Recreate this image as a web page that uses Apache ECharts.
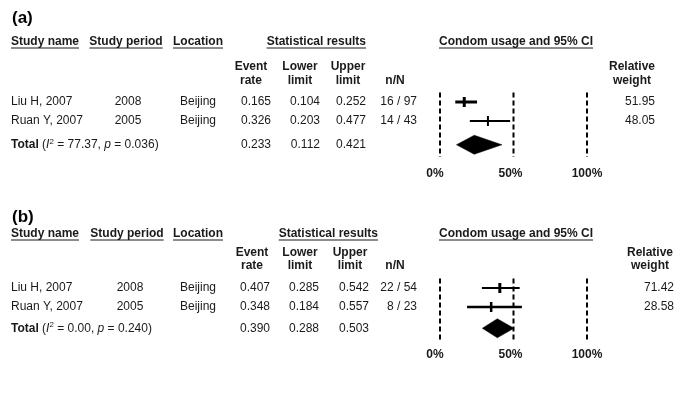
<!DOCTYPE html>
<html><head><meta charset="utf-8">
<script src="https://cdn.jsdelivr.net/npm/echarts@6/dist/echarts.min.js"></script>
<style>html,body{margin:0;padding:0;background:#fff}#c{width:685px;height:411px}</style>
</head><body><div id="c"></div>
<script>
// ---------- data ----------
const studyNames = ['Liu H, 2007', 'Ruan Y, 2007'];
const studyPeriods = ['2008', '2005'];
const locations = ['Beijing', 'Beijing'];
const xTickValues = [0, 0.5, 1];
const xTickLabels = ['0%', '50%', '100%'];
const panelLabels = ['(a)', '(b)'];
const headerTop = ['Study name', 'Study period', 'Location', 'Statistical results', 'Condom usage and 95% CI'];
const headerEvent = ['Event', 'rate'];
const headerLower = ['Lower', 'limit'];
const headerUpper = ['Upper', 'limit'];
const headerN = 'n/N';
const headerWeight = ['Relative', 'weight'];

// panel (a)
const aEvent = [0.165, 0.326];
const aLower = [0.104, 0.203];
const aUpper = [0.252, 0.477];
const aNN = ['16 / 97', '14 / 43'];
const aWeight = [51.95, 48.05];
const aTotal = [0.233, 0.112, 0.421];
const aI2 = 77.37;
const aP = 0.036;

// panel (b)
const bEvent = [0.407, 0.348];
const bLower = [0.285, 0.184];
const bUpper = [0.542, 0.557];
const bNN = ['22 / 54', '8 / 23'];
const bWeight = [71.42, 28.58];
const bTotal = [0.390, 0.288, 0.503];
const bI2 = 0.00;
const bP = 0.240;

// ---------- layout ----------
const FF = '"Liberation Sans", Arial, sans-serif';
const COL = '#1a1a1a';
const tickLabelPad = [10, 6, 0];
const panels = [
  { label: panelLabels[0], labelY: 18, headY: 42, h1: 67, h2: 81, gridTop: 92.5, yMax: 2.9, totalRow: 2.25, labelMargin: 11,
    ev: aEvent, lo: aLower, up: aUpper, nn: aNN, w: aWeight, tot: aTotal, i2: aI2, p: aP,
    lineW: [3, 2], tickW: [3, 2],
    cx: { name: 11, period: 128, loc: 198, ev: 271, lo: 320, up: 366, nn: 417, w: 655, statR: 366,
          hEv: 251, hLo: 300, hUp: 348, hN: 395, hW: 632, hPeriod: 126 } },
  { label: panelLabels[1], labelY: 217, headY: 234, h1: 253, h2: 266, gridTop: 278.5, yMax: 2.75, totalRow: 2.12, labelMargin: 8,
    ev: bEvent, lo: bLower, up: bUpper, nn: bNN, w: bWeight, tot: bTotal, i2: bI2, p: bP,
    lineW: [2, 2.5], tickW: [3, 2.5],
    cx: { name: 11, period: 130, loc: 198, ev: 270, lo: 319, up: 369, nn: 417, w: 674, statR: 378,
          hEv: 252, hLo: 300, hUp: 350, hN: 395, hW: 650, hPeriod: 127 } }
];
const ROWPX = 19;

const mctx = document.createElement('canvas').getContext('2d');
function measure(t, bold) { mctx.font = (bold ? 'bold ' : '') + '12px ' + FF; return mctx.measureText(t).width; }

function txt(x, y, text, align, bold) {
  return { type: 'text', x: x, y: y, style: { text: text, fill: COL, fontSize: 12, fontFamily: FF,
    fontWeight: bold ? 'bold' : 'normal', align: align, verticalAlign: 'middle' } };
}

const graphic = [];
const grids = [], xAxes = [], yAxes = [], series = [];
const tickRich = {};
tickLabelPad.forEach(function (p, i) {
  tickRich['t' + i] = { fontSize: 12, fontWeight: 'bold', fontFamily: FF, color: COL, padding: [0, p, 0, 0] };
});

panels.forEach(function (P, k) {
  const c = P.cx;
  graphic.push({ type: 'text', x: 12, y: P.labelY, style: { text: P.label, fill: '#000', fontSize: 17, fontWeight: 'bold', fontFamily: FF, align: 'left', verticalAlign: 'middle' } });
  const heads = [
    [headerTop[0], c.name, 'left'],
    [headerTop[1], c.hPeriod, 'center'],
    [headerTop[2], c.loc, 'center'],
    [headerTop[3], c.statR, 'right'],
    [headerTop[4], 516, 'center']
  ];
  heads.forEach(function (h) {
    graphic.push(txt(h[1], P.headY, h[0], h[2], true));
    const w = measure(h[0], true);
    const x1 = h[2] === 'left' ? h[1] : (h[2] === 'center' ? h[1] - w / 2 : h[1] - w);
    graphic.push({ type: 'line', shape: { x1: x1, y1: P.headY + 6, x2: x1 + w, y2: P.headY + 6 }, style: { stroke: COL, lineWidth: 1 } });
  });
  [[headerEvent, c.hEv], [headerLower, c.hLo], [headerUpper, c.hUp], [headerWeight, c.hW]].forEach(function (h) {
    graphic.push(txt(h[1], P.h1, h[0][0], 'center', true));
    graphic.push(txt(h[1], P.h2, h[0][1], 'center', true));
  });
  graphic.push(txt(c.hN, P.h2, headerN, 'center', true));

  const gridH = (P.yMax + 0.5) * ROWPX;
  grids.push({ left: 440, width: 147, top: P.gridTop, height: gridH, containLabel: false });
  xAxes.push({ gridIndex: k, type: 'value', min: 0, max: 1, interval: 0.5,
    axisLine: { show: false }, axisTick: { show: false }, splitLine: { show: false },
    axisLabel: { show: true, margin: P.labelMargin, fontSize: 12, fontWeight: 'bold', fontFamily: FF, color: COL,
      showMinLabel: true, showMaxLabel: true, rich: tickRich,
      formatter: function (v) { const i = xTickValues.indexOf(Math.round(v * 10) / 10); return i >= 0 ? '{t' + i + '|' + xTickLabels[i] + '}' : ''; } } });
  yAxes.push({ gridIndex: k, type: 'value', inverse: true, min: -0.5, max: P.yMax, show: false });

  series.push({ type: 'custom', xAxisIndex: k, yAxisIndex: k, clip: false, silent: true,
    data: xTickValues.map(function (v) { return [v, 0]; }),
    renderItem: function (params, api) {
      const a = api.coord([api.value(0), -0.5]);
      const b = api.coord([api.value(0), P.yMax]);
      return { type: 'line', shape: { x1: a[0], y1: a[1], x2: b[0], y2: b[1] },
        style: { stroke: '#000', lineWidth: 2, lineDash: [5, 3] } };
    } });

  series.push({ type: 'custom', xAxisIndex: k, yAxisIndex: k, clip: false, silent: true,
    data: P.ev.map(function (e, i) { return [e, P.lo[i], P.up[i], i]; }),
    renderItem: function (params, api) {
      const i = params.dataIndex;
      const row = api.value(3);
      const pt = api.coord([api.value(0), row]);
      const lo = api.coord([api.value(1), row]);
      const hi = api.coord([api.value(2), row]);
      const y = pt[1];
      return { type: 'group', children: [
        { type: 'line', shape: { x1: lo[0], y1: y, x2: hi[0], y2: y }, style: { stroke: '#000', lineWidth: P.lineW[i] } },
        { type: 'line', shape: { x1: pt[0], y1: y - 5, x2: pt[0], y2: y + 5 }, style: { stroke: '#000', lineWidth: P.tickW[i] } },
        txt(c.name, y, studyNames[i], 'left', false),
        txt(c.period, y, studyPeriods[i], 'center', false),
        txt(c.loc, y, locations[i], 'center', false),
        txt(c.ev, y, P.ev[i].toFixed(3), 'right', false),
        txt(c.lo, y, P.lo[i].toFixed(3), 'right', false),
        txt(c.up, y, P.up[i].toFixed(3), 'right', false),
        txt(c.nn, y, P.nn[i], 'right', false),
        txt(c.w, y, P.w[i].toFixed(2), 'right', false)
      ] };
    } });

  series.push({ type: 'custom', xAxisIndex: k, yAxisIndex: k, clip: false, silent: true,
    data: [[P.tot[0], P.tot[1], P.tot[2], P.totalRow]],
    renderItem: function (params, api) {
      const row = api.value(3);
      const m = api.value(0), l = api.value(1), h = api.value(2);
      const pL = api.coord([l, row]), pT = api.coord([m, row - 0.5]), pR = api.coord([h, row]), pB = api.coord([m, row + 0.5]);
      const y = pL[1];
      return { type: 'group', children: [
        { type: 'polygon', shape: { points: [pL, pT, pR, pB] }, style: { fill: '#000', stroke: '#000', lineWidth: 0.5 } },
        { type: 'text', x: c.name, y: y, style: {
            text: '{b|Total} ({i|I}{s|2} = ' + P.i2.toFixed(2) + ', {i|p} = ' + P.p.toFixed(3) + ')',
            fill: COL, fontSize: 12, fontFamily: FF, align: 'left', verticalAlign: 'middle', lineHeight: 14,
            rich: { b: { fontWeight: 'bold', fontSize: 12, fontFamily: FF, fill: COL, lineHeight: 14 },
                    i: { fontStyle: 'italic', fontSize: 12, fontFamily: FF, fill: COL, lineHeight: 14 },
                    s: { fontSize: 8, fontFamily: FF, fill: COL, verticalAlign: 'top', lineHeight: 14 } } } },
        txt(c.ev, y, P.tot[0].toFixed(3), 'right', false),
        txt(c.lo, y, P.tot[1].toFixed(3), 'right', false),
        txt(c.up, y, P.tot[2].toFixed(3), 'right', false)
      ] };
    } });
});

const chart = echarts.init(document.getElementById('c'), null, { renderer: 'canvas' });
chart.setOption({
  backgroundColor: '#fff',
  animation: false,
  grid: grids, xAxis: xAxes, yAxis: yAxes, series: series, graphic: graphic
});
</script></body></html>
